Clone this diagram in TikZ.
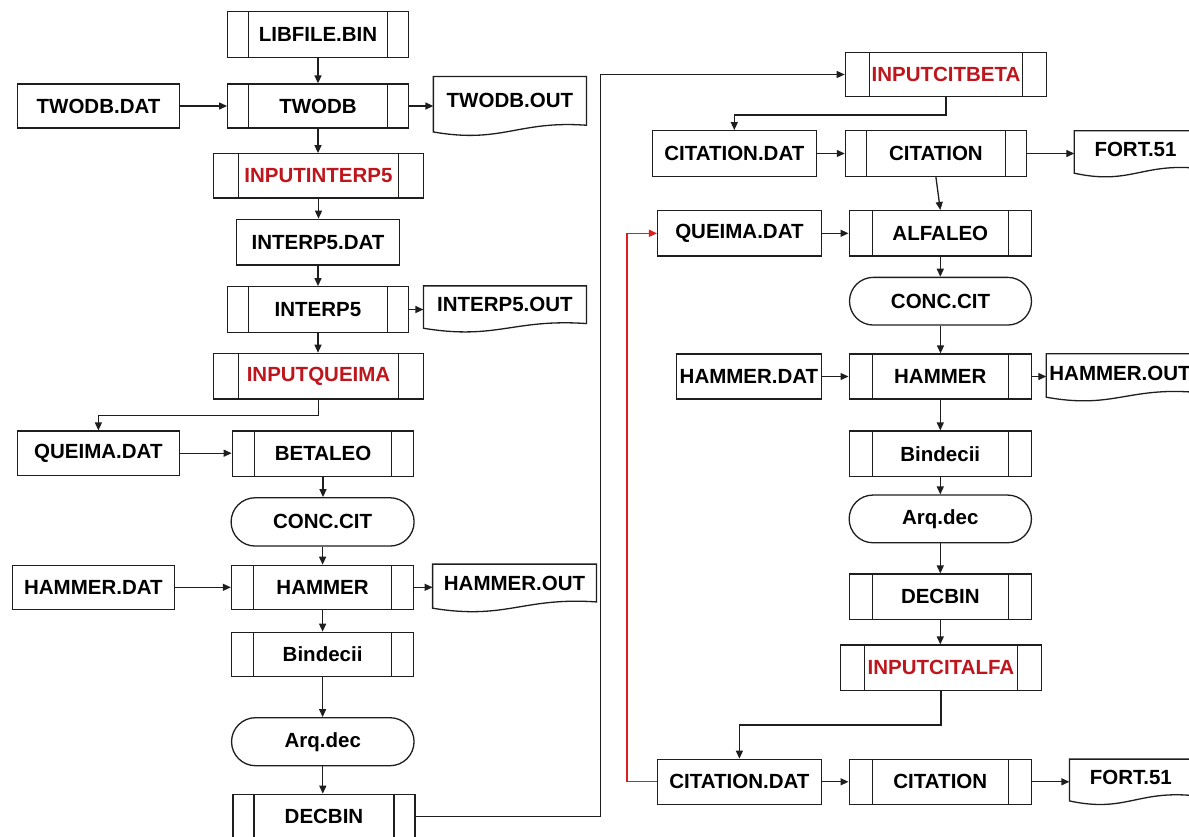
\documentclass[tikz,border=0pt]{standalone}
\usepackage{fontspec}
\setmainfont{Liberation Sans}
\usetikzlibrary{arrows.meta,calc,shapes.misc}
\definecolor{labred}{RGB}{190,22,28}
\definecolor{linered}{RGB}{220,30,30}
\definecolor{ink}{RGB}{30,30,30}
\newcommand\docout[2]{\draw[outl] ([yshift=-#2pt]#1.south west) -- (#1.north west) -- (#1.north east) -- (#1.south east) .. controls ($(#1.south east)!0.45!(#1.south west)+(0,-5)$) and ($(#1.south west)!0.45!(#1.south east)+(0,#2+12)$) .. ([yshift=-#2pt]#1.south west) -- cycle;}
\begin{document}
\begin{tikzpicture}[x=1pt,y=-1pt,
 every node/.style={font=\fontsize{20.5}{24}\selectfont\bfseries, inner sep=0pt, text=black},
 outl/.style={draw=ink, line width=1.3pt},
 wh/.style 2 args={minimum width=#1pt, minimum height=#2pt},
 io/.style={outl, rectangle},
 sub/.style={outl, rectangle, path picture={\draw[ink,line width=1.3pt] ([xshift=#1pt]path picture bounding box.north west) -- ([xshift=#1pt]path picture bounding box.south west); \draw[ink,line width=1.3pt] ([xshift=-#1pt]path picture bounding box.north east) -- ([xshift=-#1pt]path picture bounding box.south east);}},
 term/.style={outl, rounded rectangle},
 doc/.style={rectangle},
 hot/.style={text=labred},
 arr/.style={draw=ink, line width=1.3pt, -{Triangle[length=8pt,width=7pt]}},
 redarr/.style={arr, draw=linered},
]
\useasboundingbox (0,0) rectangle (1189,836);
\fill[white] (0,0) rectangle (1189,836);
\clip (0,0) rectangle (1189,836);

% left column
\node[sub=21, wh={180.6}{45.6}] (lib) at (318,34.5) {LIBFILE.BIN};
\node[io, wh={162}{44}] (twodat) at (98.5,106) {TWODB.DAT};
\node[sub=21, wh={180.6}{44}] (twodb) at (318,106) {TWODB};
\node[doc, wh={152.7}{48.3}] (twoout) at (509.9,100.9) {TWODB.OUT};
\node[sub=25, hot, wh={210}{44.3}] (ip5) at (318.5,175.9) {INPUTINTERP5};
\node[io, wh={163}{45.7}] (ip5dat) at (318,242.2) {INTERP5.DAT};
\node[sub=21, wh={180.6}{45.6}] (interp5) at (318,309.5) {INTERP5};
\node[doc, wh={162.6}{37.3}] (ip5out) at (504.9,304.7) {INTERP5.OUT};
\node[sub=25, hot, wh={210}{45.7}] (iq) at (318.5,376.2) {INPUTQUEIMA};
\node[io, wh={162.3}{44.3}] (qdat) at (98.4,453.2) {QUEIMA.DAT};
\node[sub=22, wh={181.4}{45.7}] (betaleo) at (323,453.9) {BETALEO};
\node[term, wh={183}{48.3}] (conc) at (322.6,521.9) {CONC.CIT};
\node[io, wh={162.3}{44}] (hdat) at (93.4,587.3) {HAMMER.DAT};
\node[sub=22, wh={182.2}{44}] (hammer) at (322.6,587.3) {HAMMER};
\node[doc, wh={163.4}{37.4}] (hout) at (514.5,583) {HAMMER.OUT};
\node[sub=22, wh={182.2}{44.4}] (bind) at (322.6,654.5) {Bindecii};
\node[term, wh={182.5}{48}] (arq) at (322.8,741.7) {Arq.dec};
\node[sub=21, wh={182}{45}] (decbin) at (324,816.8) {DECBIN};

% right column
\node[sub=24, hot, wh={201.3}{44.4}] (citbeta) at (946,74.5) {INPUTCITBETA};
\node[io, wh={164}{45.6}] (cdat1) at (734.3,153.5) {CITATION.DAT};
\node[sub=21, wh={181}{45.6}] (cit1) at (935.9,153.5) {CITATION};
\node[doc, wh={122}{37}] (fort1) at (1135.5,149.5) {FORT.51};
\node[io, wh={163.6}{45.3}] (qdat2) at (739.4,233.3) {QUEIMA.DAT};
\node[sub=23, wh={182.3}{45.3}] (alfaleo) at (940.3,233.3) {ALFALEO};
\node[term, wh={182}{47.7}] (conc2) at (940.5,301.2) {CONC.CIT};
\node[io, wh={144.5}{45}] (hdat2) at (749,376.5) {HAMMER.DAT};
\node[sub=23, wh={182.3}{45}] (hammer2) at (940.3,376.5) {HAMMER};
\node[doc, wh={147}{38}] (hout2) at (1120,373) {HAMMER.OUT};
\node[sub=23, wh={182.3}{45.7}] (bind2) at (940.3,453.9) {Bindecii};
\node[term, wh={182.3}{47.7}] (arq2) at (940.3,518.9) {Arq.dec};
\node[sub=23, wh={182.3}{45.3}] (dec2) at (940.3,596.7) {DECBIN};
\node[sub=24, hot, wh={201.4}{45.7}] (citalfa) at (941,667.9) {INPUTCITALFA};
\node[io, wh={163.6}{45}] (cdat2) at (739.4,781.8) {CITATION.DAT};
\node[sub=23, wh={182.3}{45}] (cit2) at (940.3,781.8) {CITATION};
\node[doc, wh={122.4}{36}] (fort2) at (1130.8,777.3) {FORT.51};

\coordinate (c1) at (600.3,400);
\coordinate (r1) at (627.1,500);

% document outlines
\docout{twoout}{6.7}
\docout{ip5out}{4.7}
\docout{hout}{6.3}
\docout{fort1}{5}
\docout{hout2}{5}
\docout{fort2}{5.4}

% left connectors
\draw[arr] (lib.south) -- (lib.south |- twodb.north);
\draw[arr] (twodat.east) -- (twodat.east -| twodb.west);
\draw[arr] (twodb.east) -- (twodb.east -| twoout.west);
\draw[arr] (twodb.south) -- (twodb.south |- ip5.north);
\draw[arr] (ip5.south) -- (ip5.south |- ip5dat.north);
\draw[arr] (ip5dat.south) -- (ip5dat.south |- interp5.north);
\draw[arr] (interp5.east) -- (interp5.east -| ip5out.west);
\draw[arr] (interp5.south) -- (interp5.south |- iq.north);
\draw[arr] (iq.south) -- ++(0,15.7) -| (qdat.north);
\draw[arr] (qdat.east) -- (qdat.east -| betaleo.west);
\draw[arr] (betaleo.south) -- (betaleo.south |- conc.north);
\draw[arr] (conc.south) -- (conc.south |- hammer.north);
\draw[arr] (hdat.east) -- (hdat.east -| hammer.west);
\draw[arr] (hammer.east) -- (hammer.east -| hout.west);
\draw[arr] (hammer.south) -- (hammer.south |- bind.north);
\draw[arr] (bind.south) -- (bind.south |- arq.north);
\draw[arr] (arq.south) -- (arq.south |- decbin.north);
\draw[arr] (decbin.east) -| (c1) |- (citbeta.west);

% right connectors
\draw[arr] (citbeta.south) -- ++(0,17.6) -| (cdat1.north);
\draw[arr] (cdat1.east) -- (cdat1.east -| cit1.west);
\draw[arr] (cit1.east) -- (cit1.east -| fort1.west);
\draw[arr] (cit1.south) -- (alfaleo.north);
\draw[arr] (qdat2.east) -- (qdat2.east -| alfaleo.west);
\draw[arr] (alfaleo.south) -- (alfaleo.south |- conc2.north);
\draw[arr] (conc2.south) -- (conc2.south |- hammer2.north);
\draw[arr] (hdat2.east) -- (hdat2.east -| hammer2.west);
\draw[arr] (hammer2.east) -- (hammer2.east -| hout2.west);
\draw[arr] (hammer2.south) -- (hammer2.south |- bind2.north);
\draw[arr] (bind2.south) -- (bind2.south |- arq2.north);
\draw[arr] (arq2.south) -- (arq2.south |- dec2.north);
\draw[arr] (dec2.south) -- (dec2.south |- citalfa.north);
\draw[arr] (citalfa.south) -- ++(0,33.6) -| (cdat2.north);
\draw[arr] (cdat2.east) -- (cdat2.east -| cit2.west);
\draw[arr] (cit2.east) -- (cit2.east -| fort2.west);
\draw[redarr] (cdat2.west) -| (r1) |- (qdat2.west);
\end{tikzpicture}
\end{document}
